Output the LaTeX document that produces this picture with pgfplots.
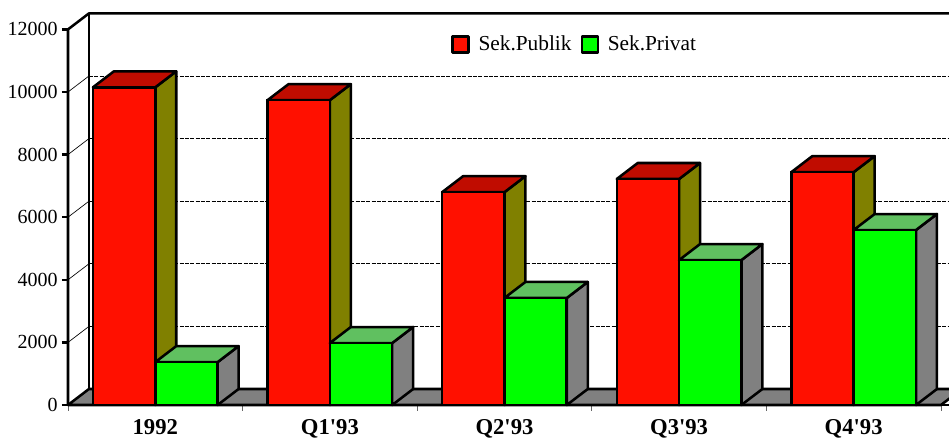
\documentclass[border=0pt]{standalone}
\usepackage{fontspec}
\setmainfont{Liberation Serif}
\newfontfamily\plainserif{Liberation Serif}
\usepackage{pgfplots}
\pgfplotsset{compat=1.18}
\definecolor{redfront}{RGB}{255,16,0}
\definecolor{redtop}{RGB}{192,12,0}
\definecolor{redside}{RGB}{128,128,0}
\definecolor{greenfront}{RGB}{0,255,0}
\definecolor{greentop}{RGB}{96,192,96}
\definecolor{greenside}{RGB}{128,128,128}
\definecolor{floorgray}{RGB}{128,128,128}
\newcommand{\lw}{1.9pt}

% depth of the fake 3D: 0.12 categories across, 511 units up
% #1 left edge of bar, #2 value, #3 top colour, #4 side colour
\newcommand{\barfaces}[4]{%
  \pgfmathsetmacro{\xa}{#1}%
  \pgfmathsetmacro{\xb}{#1+0.357}%
  \pgfmathsetmacro{\xc}{#1+0.477}%
  \pgfmathsetmacro{\xd}{#1+0.12}%
  \pgfmathsetmacro{\yt}{#2+511}%
  \addplot[forget plot, draw=black, line width=\lw, line join=round, fill=#4]
    coordinates {(\xb,0) (\xc,511) (\xc,\yt) (\xb,#2)} --cycle;
  \addplot[forget plot, draw=black, line width=\lw, line join=round, fill=#3]
    coordinates {(\xa,#2) (\xd,\yt) (\xc,\yt) (\xb,#2)} --cycle;
}

\pgfplotstableread{
x      publik privat
0.5    10150  1370
1.5    9740   1980
2.5    6800   3420
3.5    7220   4630
4.5    7440   5590
}\sektor

\begin{document}
\begin{tikzpicture}
\useasboundingbox (0,0) rectangle (711.75pt,328.5pt);
\begin{axis}[
    at={(51pt,24.75pt)}, anchor=south west,
    scale only axis,
    width=660.75pt, height=294pt,
    xmin=0, xmax=5.046,
    ymin=0, ymax=12524,
    clip=false,
    axis line style={draw=none},
    xtick={0,1,2,3,4,5},
    xticklabels={},
    extra x ticks={0.5,1.5,2.5,3.5,4.5},
    extra x tick labels={1992,Q1'93,Q2'93,Q3'93,Q4'93},
    extra x tick style={major tick length=0pt, tick label style={font=\plainserif\fontsize{17}{17}\selectfont\bfseries}},
    ytick={0,2000,4000,6000,8000,10000,12000},
    xtick pos=bottom, ytick pos=left,
    tick align=outside,
    major tick length=4.5pt,
    x tick style={draw=black!60, line width=0.6pt},
    y tick style={draw=black, line width=\lw},
    scaled y ticks=false,
    /pgf/number format/assume math mode=true,
    /pgf/number format/1000 sep={},
    y tick label style={font=\fontsize{15}{15}\selectfont, inner sep=0pt, xshift=-3pt},
    x tick label style={inner sep=0pt, yshift=-11pt},
    legend style={at={(0.5755,0.92)}, anchor=center, draw=none, fill=none,
      font=\fontsize{16}{16}\selectfont,
      /tikz/every odd column/.append style={column sep=4.5pt},
      /tikz/every even column/.append style={column sep=4.75pt},
      inner sep=0pt},
    legend columns=2,
    legend cell align=left,
    legend image code/.code={\draw[#1, draw=black, line width=\lw, line join=round] (0pt,-6pt) rectangle (12pt,6pt);},
  ]
  % back wall grid
  \addplot[forget plot, black, line width=0.5pt, dash pattern=on 3pt off 1pt] coordinates {(0.12,2511) (5.12,2511)};
  \addplot[forget plot, black, line width=0.5pt, dash pattern=on 3pt off 1pt] coordinates {(0.12,4511) (5.12,4511)};
  \addplot[forget plot, black, line width=0.5pt, dash pattern=on 3pt off 1pt] coordinates {(0.12,6511) (5.12,6511)};
  \addplot[forget plot, black, line width=0.5pt, dash pattern=on 3pt off 1pt] coordinates {(0.12,8511) (5.12,8511)};
  \addplot[forget plot, black, line width=0.5pt, dash pattern=on 3pt off 1pt] coordinates {(0.12,10511) (5.12,10511)};
  % side wall diagonals
  \addplot[forget plot, black, line width=0.5pt] coordinates {(0,2000) (0.12,2511)};
  \addplot[forget plot, black, line width=0.5pt] coordinates {(0,4000) (0.12,4511)};
  \addplot[forget plot, black, line width=0.5pt] coordinates {(0,6000) (0.12,6511)};
  \addplot[forget plot, black, line width=0.5pt] coordinates {(0,8000) (0.12,8511)};
  \addplot[forget plot, black, line width=0.5pt] coordinates {(0,10000) (0.12,10511)};
  % frame
  \addplot[forget plot, black, line width=\lw, line join=round] coordinates {(0,0) (0,12000) (0.12,12511) (5.12,12511)};
  \addplot[forget plot, black, line width=\lw] coordinates {(0.12,511) (0.12,12511)};
  % floor
  \addplot[forget plot, draw=black, line width=\lw, line join=round, fill=floorgray]
    coordinates {(0,0) (0.12,511) (5.12,511) (5,0)} --cycle;

  % red bars
  \barfaces{0.143}{10150}{redtop}{redside}
  \barfaces{1.143}{9740}{redtop}{redside}
  \barfaces{2.143}{6800}{redtop}{redside}
  \barfaces{3.143}{7220}{redtop}{redside}
  \barfaces{4.143}{7440}{redtop}{redside}
  \addplot[ybar, bar width=46.7pt, bar shift=-23.35pt, draw=black, line width=\lw, fill=redfront]
    table[x=x, y=publik] {\sektor};
  % green bars
  \barfaces{0.5}{1370}{greentop}{greenside}
  \barfaces{1.5}{1980}{greentop}{greenside}
  \barfaces{2.5}{3420}{greentop}{greenside}
  \barfaces{3.5}{4630}{greentop}{greenside}
  \barfaces{4.5}{5590}{greentop}{greenside}
  \addplot[ybar, bar width=46.7pt, bar shift=23.35pt, draw=black, line width=\lw, fill=greenfront]
    table[x=x, y=privat] {\sektor};
  % front base line
  \addplot[forget plot, black, line width=\lw] coordinates {(0,0) (5.046,0)};
  \legend{Sek.Publik, Sek.Privat}
\end{axis}
\end{tikzpicture}
\end{document}
